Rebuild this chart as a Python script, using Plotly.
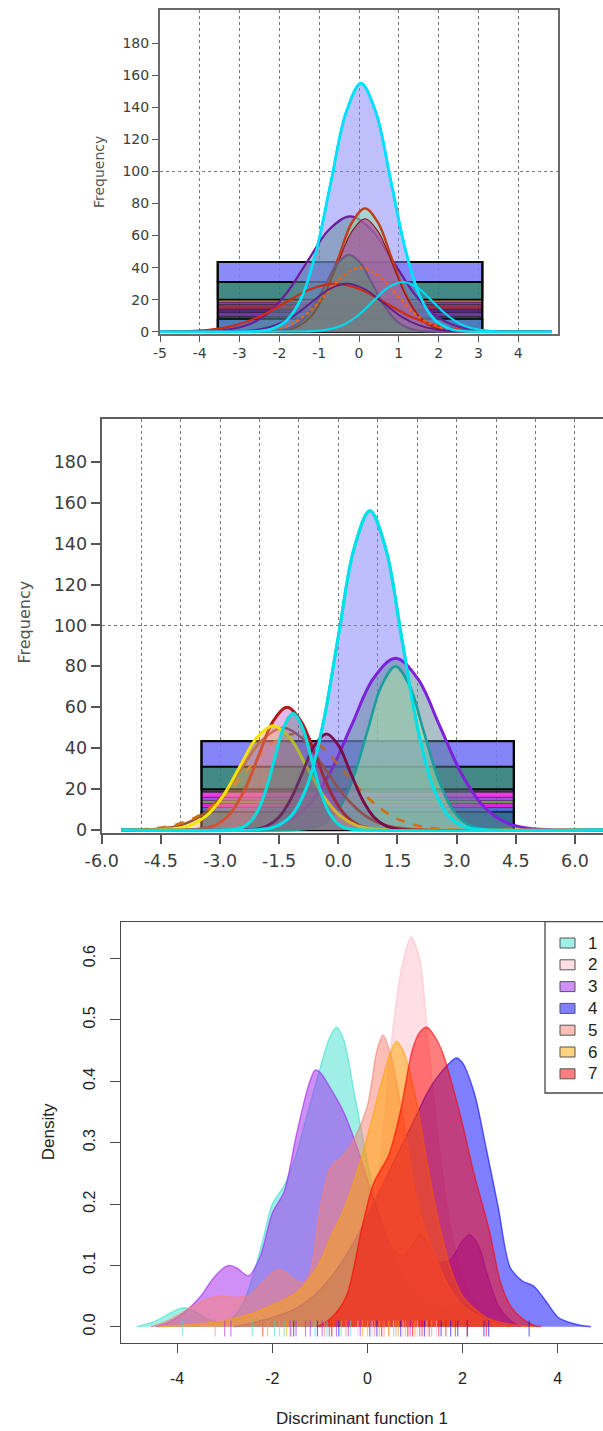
import plotly.graph_objects as go

CANVAS_W, CANVAS_H = 603, 1431

# ---------------- panel 1: frequency bars with fitted normal curves ----------------
p1_xticks = [-5, -4, -3, -2, -1, 0, 1, 2, 3, 4]
p1_xtick_text = ["-5", "-4", "-3", "-2", "-1", "0", "1", "2", "3", "4"]
p1_yticks = [0, 20, 40, 60, 80, 100, 120, 140, 160, 180]
p1_ytick_text = ["0", "20", "40", "60", "80", "100", "120", "140", "160", "180"]
p1_ref_lines = [100]

p1_bin_edges = [-3.55, 3.1]
p1_band_heights = [8, 1.5, 2.5, 2, 3, 1.5, 1.5, 11, 12.5]

p1_cyan_big_x = [-2.575, -2.2, -1.825, -1.45, -1.075, -0.7, -0.325, 0.05, 0.425, 0.8, 1.175, 1.55, 1.925, 2.3, 2.675]
p1_cyan_big_y = [0.3, 1.7, 6.8, 21.0, 50.3, 94.0, 136.8, 155.0, 136.8, 94.0, 50.3, 21.0, 6.8, 1.7, 0.3]
p1_purple_x = [-4.0, -3.46, -2.92, -2.38, -1.84, -1.3, -0.76, -0.22, 0.32, 0.86, 1.4, 1.94, 2.48, 3.02, 3.56]
p1_purple_y = [0.2, 0.8, 3.2, 9.7, 23.4, 43.7, 63.5, 72.0, 63.5, 43.7, 23.4, 9.7, 3.2, 0.8, 0.2]
p1_orange_red_x = [-2.16, -1.83, -1.5, -1.17, -0.84, -0.51, -0.18, 0.15, 0.48, 0.81, 1.14, 1.47, 1.8, 2.13, 2.46]
p1_orange_red_y = [0.2, 0.9, 3.4, 10.4, 25.0, 46.7, 68.0, 77.0, 68.0, 46.7, 25.0, 10.4, 3.4, 0.9, 0.2]
p1_dark_red_x = [-2.23, -1.89, -1.55, -1.21, -0.87, -0.53, -0.19, 0.15, 0.49, 0.83, 1.17, 1.51, 1.85, 2.19, 2.53]
p1_dark_red_y = [0.2, 0.8, 3.1, 9.5, 22.9, 42.8, 62.2, 70.5, 62.2, 42.8, 22.9, 9.5, 3.1, 0.8, 0.2]
p1_slate_x = [-2.35, -2.05, -1.75, -1.45, -1.15, -0.85, -0.55, -0.25, 0.05, 0.35, 0.65, 0.95, 1.25, 1.55, 1.85]
p1_slate_y = [0.1, 0.5, 2.1, 6.5, 15.6, 29.1, 42.4, 48.0, 42.4, 29.1, 15.6, 6.5, 2.1, 0.5, 0.1]
p1_orange_x = [-2.925, -2.5, -2.075, -1.65, -1.225, -0.8, -0.375, 0.05, 0.475, 0.9, 1.325, 1.75, 2.175, 2.6, 3.025]
p1_orange_y = [0.1, 0.4, 1.8, 5.4, 13.0, 24.3, 35.3, 40.0, 35.3, 24.3, 13.0, 5.4, 1.8, 0.4, 0.1]
p1_red_x = [-4.975, -4.35, -3.725, -3.1, -2.475, -1.85, -1.225, -0.6, 0.025, 0.65, 1.275, 1.9, 2.525, 3.15, 3.775]
p1_red_y = [0.1, 0.3, 1.3, 4.1, 9.7, 18.2, 26.5, 30.0, 26.5, 18.2, 9.7, 4.1, 1.3, 0.3, 0.1]
p1_violet_x = [-3.45, -3.0, -2.55, -2.1, -1.65, -1.2, -0.75, -0.3, 0.15, 0.6, 1.05, 1.5, 1.95, 2.4, 2.85]
p1_violet_y = [0.1, 0.3, 1.3, 4.1, 9.7, 18.2, 26.5, 30.0, 26.5, 18.2, 9.7, 4.1, 1.3, 0.3, 0.1]
p1_cyan_small_x = [-1.525, -1.15, -0.775, -0.4, -0.025, 0.35, 0.725, 1.1, 1.475, 1.85, 2.225, 2.6, 2.975, 3.35, 3.725]
p1_cyan_small_y = [0.1, 0.3, 1.4, 4.2, 10.1, 18.8, 27.4, 31.0, 27.4, 18.8, 10.1, 4.2, 1.4, 0.3, 0.1]

# ---------------- panel 2: second frequency chart ----------------
p2_xticks = [-6.0, -4.5, -3.0, -1.5, 0.0, 1.5, 3.0, 4.5, 6.0]
p2_xtick_text = ["-6.0", "-4.5", "-3.0", "-1.5", "0.0", "1.5", "3.0", "4.5", "6.0"]
p2_yticks = [0, 20, 40, 60, 80, 100, 120, 140, 160, 180]
p2_ytick_text = ["0", "20", "40", "60", "80", "100", "120", "140", "160", "180"]
p2_ref_lines = [100]

p2_bin_edges = [-3.47, 4.45]
p2_band_heights = [9, 2, 2, 1.5, 1.5, 2.5, 1.5, 11, 12.5]

p2_cyan_big_x = [-2.0, -1.6, -1.2, -0.8, -0.4, 0.0, 0.4, 0.8, 1.2, 1.6, 2.0, 2.4, 2.8, 3.2, 3.6]
p2_cyan_big_y = [0.3, 1.7, 6.8, 21.1, 50.7, 94.6, 137.7, 156.0, 137.7, 94.6, 50.7, 21.1, 6.8, 1.7, 0.3]
p2_purple_x = [-2.47, -1.91, -1.35, -0.79, -0.23, 0.33, 0.89, 1.45, 2.01, 2.57, 3.13, 3.69, 4.25, 4.81, 5.37]
p2_purple_y = [0.2, 0.9, 3.7, 11.4, 27.3, 50.9, 74.1, 84.0, 74.1, 50.9, 27.3, 11.4, 3.7, 0.9, 0.2]
p2_teal_x = [-1.035, -0.68, -0.325, 0.03, 0.385, 0.74, 1.095, 1.45, 1.805, 2.16, 2.515, 2.87, 3.225, 3.58, 3.935]
p2_teal_y = [0.2, 0.9, 3.5, 10.8, 26.0, 48.5, 70.6, 80.0, 70.6, 48.5, 26.0, 10.8, 3.5, 0.9, 0.2]
p2_dark_red_x = [-3.82, -3.46, -3.1, -2.74, -2.38, -2.02, -1.66, -1.3, -0.94, -0.58, -0.22, 0.14, 0.5, 0.86, 1.22]
p2_dark_red_y = [0.1, 0.7, 2.6, 8.1, 19.5, 36.4, 53.0, 60.0, 53.0, 36.4, 19.5, 8.1, 2.6, 0.7, 0.1]
p2_cyan_small_x = [-2.795, -2.56, -2.325, -2.09, -1.855, -1.62, -1.385, -1.15, -0.915, -0.68, -0.445, -0.21, 0.025, 0.26, 0.495]
p2_cyan_small_y = [0.1, 0.6, 2.5, 7.7, 18.5, 34.6, 50.3, 57.0, 50.3, 34.6, 18.5, 7.7, 2.5, 0.6, 0.1]
p2_yellow_x = [-4.625, -4.2, -3.775, -3.35, -2.925, -2.5, -2.075, -1.65, -1.225, -0.8, -0.375, 0.05, 0.475, 0.9, 1.325]
p2_yellow_y = [0.1, 0.6, 2.2, 6.9, 16.6, 30.9, 45.0, 51.0, 45.0, 30.9, 16.6, 6.9, 2.2, 0.6, 0.1]
p2_brown_x = [-5.075, -4.55, -4.025, -3.5, -2.975, -2.45, -1.925, -1.4, -0.875, -0.35, 0.175, 0.7, 1.225, 1.75, 2.275]
p2_brown_y = [0.1, 0.6, 2.2, 6.8, 16.2, 30.3, 44.1, 50.0, 44.1, 30.3, 16.2, 6.8, 2.2, 0.6, 0.1]
p2_maroon_x = [-2.4, -2.1, -1.8, -1.5, -1.2, -0.9, -0.6, -0.3, 0.0, 0.3, 0.6, 0.9, 1.2, 1.5, 1.8]
p2_maroon_y = [0.1, 0.5, 2.1, 6.4, 15.3, 28.5, 41.5, 47.0, 41.5, 28.5, 15.3, 6.4, 2.1, 0.5, 0.1]
p2_orange_x = [-5.4, -4.85, -4.225, -3.6, -2.975, -2.35, -1.725, -1.1, -0.475, 0.15, 0.775, 1.4, 2.025, 2.65, 3.275]
p2_orange_y = [0.1, 0.5, 2.1, 6.4, 15.3, 28.5, 41.5, 47.0, 41.5, 28.5, 15.3, 6.4, 2.1, 0.5, 0.1]

# ---------------- panel 3: kernel densities of discriminant function 1 ----------------
p3_groups = ["1", "2", "3", "4", "5", "6", "7"]
p3_xticks = [-4, -2, 0, 2, 4]
p3_xtick_text = ["-4", "-2", "0", "2", "4"]
p3_yticks = [0.0, 0.1, 0.2, 0.3, 0.4, 0.5, 0.6]
p3_ytick_text = ["0.0", "0.1", "0.2", "0.3", "0.4", "0.5", "0.6"]

p3_g1_x = [-4.85, -4.5, -4.25, -4.0, -3.85, -3.6, -3.35, -3.1, -2.85, -2.6, -2.4, -2.2, -2.0, -1.75, -1.5, -1.25, -1.0, -0.8, -0.65, -0.5, -0.25, 0.0, 0.25, 0.5, 0.75, 1.0, 1.25, 1.5, 1.9, 2.25, 2.6, 3.0]
p3_g1_y = [0.0, 0.008, 0.018, 0.028, 0.031, 0.024, 0.012, 0.008, 0.014, 0.04, 0.085, 0.14, 0.2, 0.23, 0.28, 0.35, 0.42, 0.47, 0.488, 0.468, 0.37, 0.27, 0.18, 0.12, 0.08, 0.055, 0.04, 0.03, 0.035, 0.02, 0.008, 0.0]
p3_g2_x = [-1.0, -0.5, -0.25, 0.0, 0.25, 0.5, 0.72, 0.92, 1.1, 1.25, 1.5, 1.75, 2.0, 2.25, 2.5, 2.8]
p3_g2_y = [0.0, 0.02, 0.05, 0.11, 0.25, 0.46, 0.585, 0.635, 0.6, 0.49, 0.3, 0.16, 0.08, 0.04, 0.015, 0.0]
p3_g3_x = [-4.45, -4.25, -4.0, -3.75, -3.5, -3.25, -3.0, -2.9, -2.75, -2.5, -2.25, -2.0, -1.75, -1.5, -1.25, -1.1, -1.0, -0.75, -0.5, -0.25, 0.0, 0.25, 0.5, 0.75, 1.0, 1.1, 1.25, 1.5, 1.75, 2.0, 2.15, 2.35, 2.5, 2.75, 3.0, 3.2]
p3_g3_y = [0.0, 0.005, 0.015, 0.03, 0.05, 0.078, 0.097, 0.1, 0.096, 0.083, 0.115, 0.185, 0.22, 0.31, 0.39, 0.418, 0.415, 0.385, 0.35, 0.3, 0.24, 0.18, 0.13, 0.115, 0.14, 0.15, 0.14, 0.105, 0.11, 0.14, 0.15, 0.13, 0.09, 0.035, 0.01, 0.0]
p3_g4_x = [-2.8, -2.5, -2.0, -1.5, -1.0, -0.5, 0.0, 0.5, 1.0, 1.25, 1.5, 1.87, 2.0, 2.25, 2.5, 2.75, 3.0, 3.25, 3.5, 3.75, 4.0, 4.25, 4.5, 4.7]
p3_g4_y = [0.0, 0.005, 0.015, 0.03, 0.06, 0.11, 0.18, 0.26, 0.34, 0.38, 0.41, 0.438, 0.43, 0.38, 0.29, 0.195, 0.097, 0.075, 0.066, 0.042, 0.016, 0.007, 0.002, 0.0]
p3_g5_x = [-4.55, -4.25, -4.0, -3.75, -3.5, -3.25, -3.05, -2.75, -2.5, -2.25, -2.0, -1.9, -1.75, -1.5, -1.35, -1.2, -1.0, -0.77, -0.5, -0.25, 0.0, 0.2, 0.33, 0.5, 0.75, 1.0, 1.25, 1.5, 1.75, 2.0, 2.5, 3.0]
p3_g5_y = [0.0, 0.008, 0.018, 0.03, 0.04, 0.048, 0.05, 0.048, 0.05, 0.068, 0.088, 0.093, 0.09, 0.075, 0.072, 0.09, 0.19, 0.26, 0.28, 0.31, 0.36, 0.45, 0.475, 0.44, 0.34, 0.22, 0.15, 0.1, 0.06, 0.035, 0.01, 0.0]
p3_g6_x = [-4.4, -3.5, -3.0, -2.5, -2.0, -1.5, -1.25, -1.0, -0.75, -0.5, -0.25, 0.0, 0.25, 0.5, 0.61, 0.75, 1.0, 1.25, 1.5, 1.75, 2.0, 2.5, 3.0, 3.5]
p3_g6_y = [0.0, 0.005, 0.01, 0.02, 0.035, 0.055, 0.075, 0.105, 0.15, 0.19, 0.245, 0.31, 0.385, 0.45, 0.465, 0.45, 0.38, 0.27, 0.17, 0.095, 0.05, 0.015, 0.004, 0.0]
p3_g7_x = [-1.05, -0.75, -0.44, -0.12, 0.13, 0.45, 0.7, 0.94, 1.1, 1.25, 1.4, 1.59, 1.8, 2.0, 2.24, 2.56, 2.8, 3.0, 3.2, 3.45, 3.65]
p3_g7_y = [0.0, 0.015, 0.05, 0.16, 0.234, 0.28, 0.353, 0.45, 0.48, 0.488, 0.475, 0.445, 0.39, 0.33, 0.25, 0.158, 0.072, 0.035, 0.017, 0.004, 0.0]

# individual observations shown as a rug under the densities
p3_rug = [
    [-3.89, -2.42, -1.95, -1.85, -1.75, -1.1, -0.85, -0.55, -0.35, 0.05, 0.55],
    [-0.2, 0.1, 0.3, 0.55, 0.75, 0.85, 0.95, 1.05, 1.25, 1.45],
    [-3.0, -2.87, -2.2, -1.62, -1.5, -1.3, -1.2, -0.95, -0.8, -0.65, -0.4, -0.15, 0.05, 0.9, 1.1],
    [-1.55, -1.05, -0.6, 0.2, 0.7, 1.2, 1.55, 1.75, 1.9, 2.1, 2.45, 2.55, 3.4],
    [-3.2, -2.1, -1.6, -0.9, -0.45, 0.15, 0.35, 0.45, 0.6, 1.35],
    [-2.2, -1.7, -0.75, -0.1, 0.0, 0.25, 0.45, 0.65, 0.8, 1.0],
    [-0.75, 0.3, 0.85, 0.95, 1.15, 1.3, 1.5, 1.65, 1.85, 2.1, 2.5],
]

# ---------------- styling ----------------
SPSS_FONT = "DejaVu Sans"
R_FONT = "Liberation Sans, Arial, sans-serif"
GRID = "#7a7a7a"

p1_band_colors = ["rgba(59,111,182,0.9)", "rgba(28,43,51,0.9)", "rgba(92,36,151,0.9)",
                  "rgba(61,15,115,0.9)", "rgba(142,24,56,0.9)", "rgba(114,50,168,0.9)",
                  "rgba(217,137,31,0.9)", "rgba(47,125,121,0.9)", "rgba(125,125,247,0.9)"]
p2_band_colors = ["rgba(31,91,140,0.9)", "rgba(58,95,208,0.9)", "rgba(212,20,212,0.9)",
                  "rgba(111,138,69,0.9)", "rgba(155,63,232,0.9)", "rgba(240,32,240,0.9)",
                  "rgba(31,42,42,0.9)", "rgba(47,125,121,0.9)", "rgba(120,120,246,0.9)"]
p3_rgb = [(64, 224, 208), (255, 192, 203), (160, 32, 240), (0, 0, 255),
          (250, 128, 114), (255, 165, 0), (255, 0, 0)]

P1_XRANGE, P1_YRANGE = [-5.0, 5.0], [-1.2, 201]
P2_XRANGE, P2_YRANGE = [-6.0, 6.711], [-1.2, 201]
P3_XRANGE, P3_YRANGE = [-5.186, 4.953], [-0.026, 0.66]
P1_SPAN = (-5.0, 4.85)
P2_SPAN = (-5.5, 6.8)


def px_x(v):
    return v / CANVAS_W


def px_y(v):
    return 1 - v / CANVAS_H


def rgba(rgb, a):
    return "rgba(%d,%d,%d,%.2f)" % (rgb[0], rgb[1], rgb[2], a)


fig = go.Figure()


def add_bands(edges, heights, colors, xa, ya):
    bases, acc = [], 0.0
    for h in heights:
        bases.append(acc)
        acc += h
    n = len(heights)
    center, width = (edges[0] + edges[1]) / 2, edges[1] - edges[0]
    # thin stripes get a hairline, the wide bands a heavy black edge
    edge_w = [1.8 if h >= 8 else 0.4 for h in heights]
    fig.add_trace(go.Bar(
        x=[center] * n, y=heights, base=bases, width=[width] * n,
        marker=dict(color=colors, line=dict(color="#050505", width=edge_w)),
        xaxis=xa, yaxis=ya, hoverinfo="skip"))
    # heavy outline around the whole stack
    fig.add_trace(go.Bar(
        x=[center], y=[acc], base=[0], width=[width],
        marker=dict(color="rgba(0,0,0,0)", line=dict(color="#050505", width=2.2)),
        xaxis=xa, yaxis=ya, hoverinfo="skip"))


def add_curve(x, y, xa, ya, span, color, width, fill=None, dash="solid"):
    xs = [span[0]] + list(x) + [span[1]]
    ys = [0] + list(y) + [0]
    fig.add_trace(go.Scatter(
        x=xs, y=ys, mode="lines", xaxis=xa, yaxis=ya,
        line=dict(color=color, width=width, dash=dash, shape="spline", smoothing=1.0),
        fill="tozeroy" if fill else "none", fillcolor=fill, hoverinfo="skip"))


def register_grid_axes(xa, ya):
    # an empty trace so that the grid-only overlay axis pair gets drawn
    fig.add_trace(go.Scatter(x=[None], y=[None], mode="lines", xaxis=xa, yaxis=ya,
                             hoverinfo="skip", showlegend=False))


# panel 1
add_bands(p1_bin_edges, p1_band_heights, p1_band_colors, "x", "y")
add_curve(p1_cyan_big_x, p1_cyan_big_y, "x", "y", P1_SPAN, "#00e1ff", 2.6, "rgba(128,128,250,0.50)")
add_curve(p1_purple_x, p1_purple_y, "x", "y", P1_SPAN, "#6c1c9c", 2.2, "rgba(95,135,150,0.50)")
add_curve(p1_orange_red_x, p1_orange_red_y, "x", "y", P1_SPAN, "#c43c18", 2.4, "rgba(140,235,170,0.50)")
add_curve(p1_dark_red_x, p1_dark_red_y, "x", "y", P1_SPAN, "#8b1a1a", 1.2, "rgba(175,55,150,0.60)")
add_curve(p1_slate_x, p1_slate_y, "x", "y", P1_SPAN, "#6b5a85", 2.2, "rgba(70,150,100,0.45)")
add_curve(p1_red_x, p1_red_y, "x", "y", P1_SPAN, "#d02a10", 2.2)
add_curve(p1_orange_x, p1_orange_y, "x", "y", P1_SPAN, "#ff6000", 2.2, dash="dot")
add_curve(p1_violet_x, p1_violet_y, "x", "y", P1_SPAN, "#5b1f8a", 1.8)
add_curve(p1_cyan_small_x, p1_cyan_small_y, "x", "y", P1_SPAN, "#00d8f0", 2.2)
add_curve(p1_cyan_big_x, p1_cyan_big_y, "x", "y", P1_SPAN, "#00e1ff", 2.6)
register_grid_axes("x", "y4")

# panel 2
add_bands(p2_bin_edges, p2_band_heights, p2_band_colors, "x2", "y2")
add_curve(p2_cyan_big_x, p2_cyan_big_y, "x2", "y2", P2_SPAN, "#00e0e8", 3.0, "rgba(125,125,250,0.50)")
add_curve(p2_purple_x, p2_purple_y, "x2", "y2", P2_SPAN, "#7d22d8", 3.0, "rgba(90,130,150,0.50)")
add_curve(p2_teal_x, p2_teal_y, "x2", "y2", P2_SPAN, "#1a9e9e", 2.6, "rgba(170,230,160,0.50)")
add_curve(p2_brown_x, p2_brown_y, "x2", "y2", P2_SPAN, "#a0522d", 2.6)
add_curve(p2_orange_x, p2_orange_y, "x2", "y2", P2_SPAN, "#d07010", 2.6, dash="dash")
add_curve(p2_dark_red_x, p2_dark_red_y, "x2", "y2", P2_SPAN, "#b01c1c", 3.0, "rgba(190,80,190,0.40)")
add_curve(p2_yellow_x, p2_yellow_y, "x2", "y2", P2_SPAN, "#f5e400", 3.0, "rgba(255,170,90,0.40)")
add_curve(p2_maroon_x, p2_maroon_y, "x2", "y2", P2_SPAN, "#7a0a4a", 2.8, "rgba(110,80,150,0.30)")
add_curve(p2_cyan_small_x, p2_cyan_small_y, "x2", "y2", P2_SPAN, "#00e0e0", 3.0, "rgba(60,110,130,0.35)")
add_curve(p2_cyan_big_x, p2_cyan_big_y, "x2", "y2", P2_SPAN, "#00e0e8", 3.0)
register_grid_axes("x2", "y5")
register_grid_axes("x4", "y2")

# panel 3
p3_x = [p3_g1_x, p3_g2_x, p3_g3_x, p3_g4_x, p3_g5_x, p3_g6_x, p3_g7_x]
p3_y = [p3_g1_y, p3_g2_y, p3_g3_y, p3_g4_y, p3_g5_y, p3_g6_y, p3_g7_y]
for gx, gy, col in zip(p3_x, p3_y, p3_rgb):
    fig.add_trace(go.Scatter(
        x=gx, y=gy, mode="lines", fill="toself", fillcolor=rgba(col, 0.5),
        line=dict(color=rgba(col, 0.6), width=1.4, shape="spline", smoothing=0.8),
        xaxis="x3", yaxis="y3", hoverinfo="skip"))

RUG_LO, RUG_HI = -0.016, 0.010
for obs, col in zip(p3_rug, p3_rgb):
    rx, ry = [], []
    for v in obs:
        rx += [v, v, None]
        ry += [RUG_LO, RUG_HI, None]
    fig.add_trace(go.Scatter(x=rx, y=ry, mode="lines", line=dict(color=rgba(col, 0.55), width=1.2),
                             xaxis="x3", yaxis="y3", hoverinfo="skip"))

# ---------------- axes ----------------
p1_tick_font = dict(family=SPSS_FONT, size=14, color="#3d3d3d")
p2_tick_font = dict(family=SPSS_FONT, size=17.5, color="#3d3d3d")
p3_tick_font = dict(family=R_FONT, size=16, color="#222222")

grid_only = dict(automargin=False, showticklabels=False, ticks="", showgrid=True, gridcolor=GRID,
                 griddash="dot", gridwidth=1, showline=False, zeroline=False)

fig.update_layout(
    width=CANVAS_W, height=CANVAS_H, margin=dict(l=0, r=0, t=0, b=0, autoexpand=False),
    paper_bgcolor="white", plot_bgcolor="white", showlegend=False, barmode="overlay",
    xaxis=dict(domain=[px_x(160), px_x(558)], range=P1_XRANGE, anchor="y", automargin=False,
               tickmode="array", tickvals=p1_xticks, ticktext=p1_xtick_text, tickfont=p1_tick_font,
               showgrid=True, gridcolor=GRID, griddash="dot", gridwidth=1,
               showline=True, linecolor="#6a6a6a", linewidth=2, mirror=True,
               ticks="outside", ticklen=6, tickcolor="#555", zeroline=False, layer="below traces"),
    yaxis=dict(domain=[px_y(333.6), px_y(9.7)], range=P1_YRANGE, anchor="x", automargin=False,
               tickmode="array", tickvals=p1_yticks, ticktext=p1_ytick_text, tickfont=p1_tick_font,
               showgrid=False, showline=True, linecolor="#6a6a6a", linewidth=2, mirror=True,
               ticks="outside", ticklen=6, tickcolor="#555", zeroline=False, layer="below traces"),
    yaxis4=dict(overlaying="y", anchor="x", range=P1_YRANGE, tickmode="array", tickvals=p1_ref_lines,
                **grid_only),
    xaxis2=dict(domain=[px_x(101.7), 1.0], range=P2_XRANGE, anchor="y2", automargin=False,
                tickmode="array", tickvals=p2_xticks, ticktext=p2_xtick_text, tickfont=p2_tick_font,
                showgrid=False, showline=True, linecolor="#5e5e5e", linewidth=2.2, mirror=True,
                ticks="outside", ticklen=9, tickcolor="#555", tickwidth=1.5, zeroline=False,
                layer="below traces", ticklabelstandoff=2),
    xaxis4=dict(overlaying="x2", anchor="y2", range=P2_XRANGE, tickmode="linear", tick0=0, dtick=1,
                **grid_only),
    yaxis2=dict(domain=[px_y(832.5), px_y(418.8)], range=P2_YRANGE, anchor="x2", automargin=False,
                tickmode="array", tickvals=p2_yticks, ticktext=p2_ytick_text, tickfont=p2_tick_font,
                showgrid=False, showline=True, linecolor="#5e5e5e", linewidth=2.2, mirror=False,
                ticks="outside", ticklen=9, tickcolor="#555", tickwidth=1.5, zeroline=False,
                layer="below traces"),
    yaxis5=dict(overlaying="y2", anchor="x2", range=P2_YRANGE, tickmode="array", tickvals=p2_ref_lines,
                **grid_only),
    xaxis3=dict(domain=[px_x(120.7), 1.0], range=P3_XRANGE, anchor="y3", automargin=False,
                tickmode="array", tickvals=p3_xticks, ticktext=p3_xtick_text, tickfont=p3_tick_font,
                showgrid=False, showline=True, linecolor="#4a4a4a", linewidth=1.3, mirror=True,
                ticks="outside", ticklen=9, tickcolor="#4a4a4a", tickwidth=1.3, zeroline=False,
                ticklabelstandoff=12),
    yaxis3=dict(domain=[px_y(1342.7), px_y(921.7)], range=P3_YRANGE, anchor="x3", automargin=False,
                tickmode="array", tickvals=p3_yticks, ticktext=p3_ytick_text, tickfont=p3_tick_font,
                tickangle=-90, showgrid=False, showline=True, linecolor="#4a4a4a", linewidth=1.3,
                mirror=False, ticks="outside", ticklen=10, tickcolor="#4a4a4a", tickwidth=1.3,
                zeroline=False, ticklabelstandoff=8),
)

# ---------------- axis titles ----------------
annotations = [
    dict(text="Frequency", x=px_x(98.3), y=px_y(171.7), textangle=-90,
         font=dict(family=SPSS_FONT, size=14, color="#555")),
    dict(text="Frequency", x=px_x(24.5), y=px_y(622), textangle=-90,
         font=dict(family=SPSS_FONT, size=16, color="#555")),
    dict(text="Density", x=px_x(48.3), y=px_y(1132), textangle=-90,
         font=dict(family=R_FONT, size=17, color="#222")),
    dict(text="Discriminant function 1", x=px_x(362), y=px_y(1418),
         font=dict(family=R_FONT, size=17, color="#222")),
]

# ---------------- legend for panel 3 ----------------
shapes = [dict(type="rect", xref="paper", yref="paper", x0=px_x(545), x1=px_x(640),
               y0=px_y(1093), y1=px_y(921.7), line=dict(color="#4a4a4a", width=1.3),
               fillcolor="rgba(0,0,0,0)")]
for i, (name, col) in enumerate(zip(p3_groups, p3_rgb)):
    yc = 943 + i * 21.8
    shapes.append(dict(type="rect", xref="paper", yref="paper", x0=px_x(560), x1=px_x(575),
                       y0=px_y(yc + 5), y1=px_y(yc - 5), fillcolor=rgba(col, 0.5),
                       line=dict(color="#555", width=1)))
    annotations.append(dict(text=name, x=px_x(586), y=px_y(yc), xanchor="left",
                            font=dict(family=R_FONT, size=17, color="#222")))

for a in annotations:
    a.setdefault("xanchor", "center")
    a.update(xref="paper", yref="paper", yanchor="middle", showarrow=False)

fig.update_layout(shapes=shapes, annotations=annotations)

fig.write_html("out.html")
